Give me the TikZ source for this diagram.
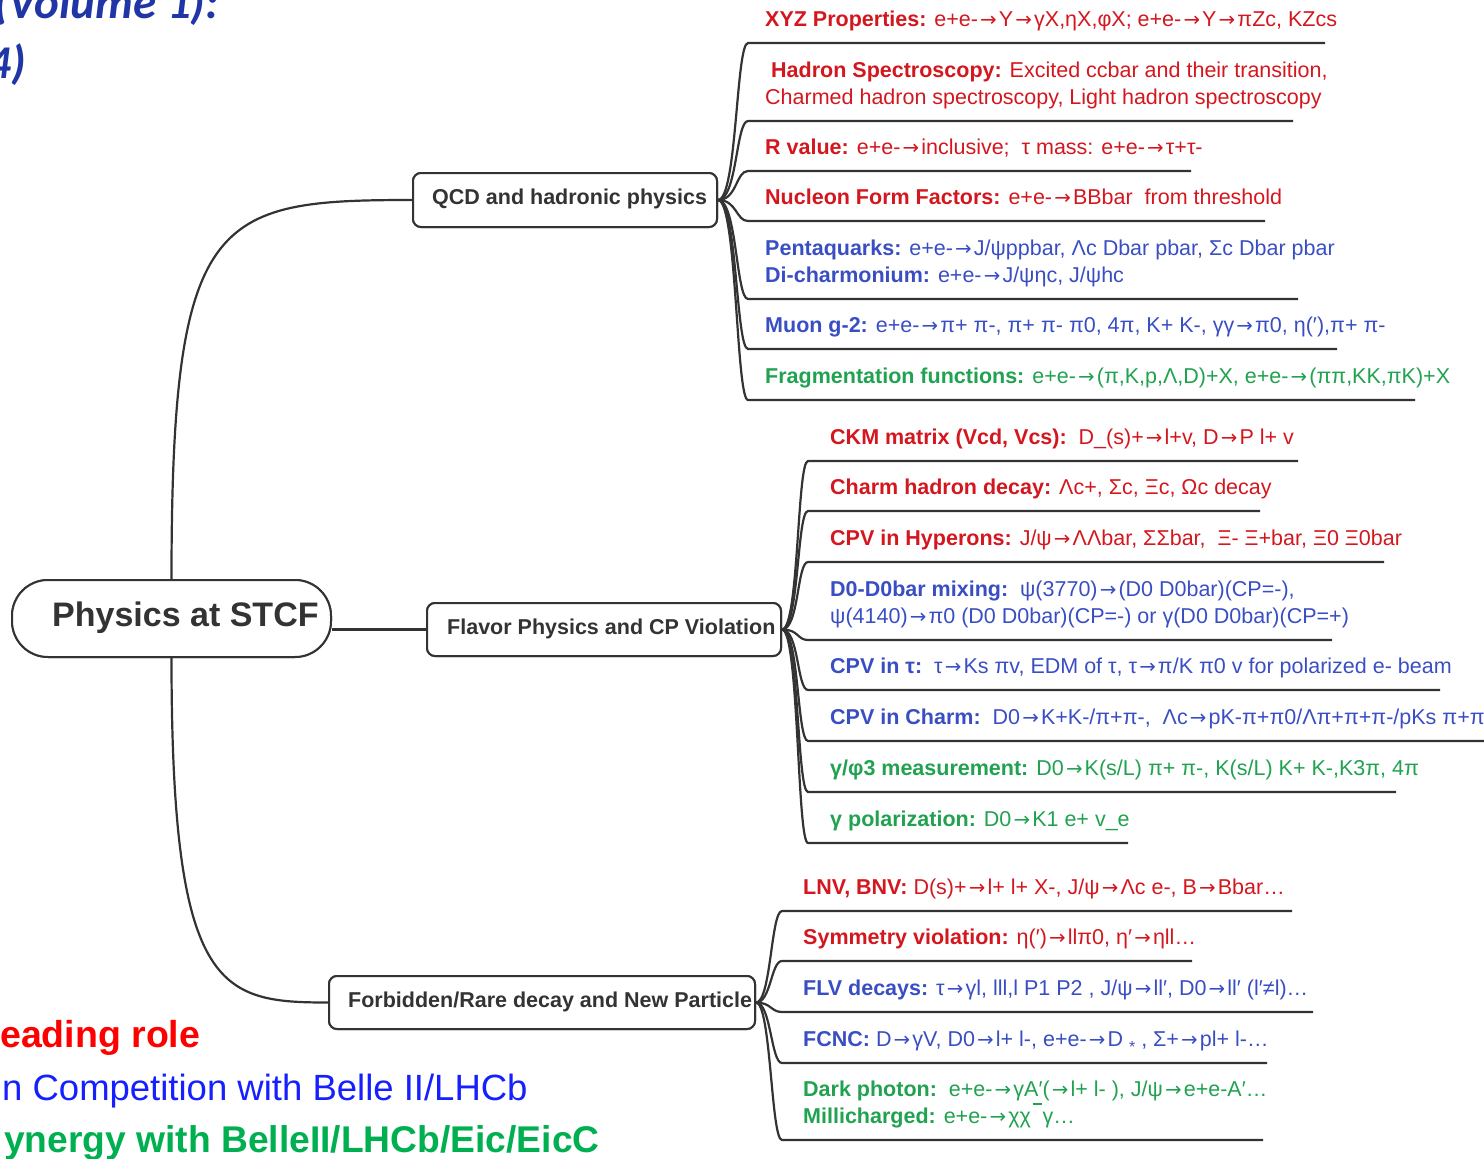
\documentclass[tikz,border=0pt]{standalone}
\usepackage{fontspec}
\setmainfont{Liberation Sans}
\newfontfamily\titlefont{Carlito}
\newfontfamily\arrfont[Scale=0.92]{DejaVu Sans}
\usetikzlibrary{calc}
\definecolor{linegray}{RGB}{51,51,51}
\definecolor{itemred}{RGB}{212,22,30}
\definecolor{itemblue}{RGB}{58,78,196}
\definecolor{itemgreen}{RGB}{32,162,80}
\definecolor{legred}{RGB}{255,0,0}
\definecolor{legblue}{RGB}{22,32,255}
\definecolor{leggreen}{RGB}{0,176,80}
\definecolor{titleblue}{RGB}{32,54,166}
\newcommand\ovbar{\hspace{0.08em}\raisebox{0.85em}{\rule{0.42em}{1.4pt}}\hspace{0.05em}}
\newcommand\smallstar{\raisebox{-0.3em}{\fontsize{16}{16}\selectfont *}}
\newcommand\myarrow{\kern0.1em{\arrfont\char"2192\relax}\kern0.1em}
\catcode`\→=\active
\def→{\myarrow}
\begin{document}
\begin{tikzpicture}[x=1pt,y=-1pt,
  line/.style={draw=linegray, line width=2.2pt},
  box/.style={draw=linegray, line width=2pt, rounded corners=8pt, fill=white, inner sep=0pt},
  boxtext/.style={anchor=base west, inner sep=0pt, text=linegray, font=\bfseries\fontsize{21.5}{26}\selectfont},
  item/.style={anchor=base west, inner sep=0pt, align=left, font=\fontsize{21.5}{26.5}\selectfont},
  itr/.style={item, text=itemred},
  itb/.style={item, text=itemblue},
  itg/.style={item, text=itemgreen},
  legend/.style={anchor=base west, inner sep=0pt, font=\fontsize{36.5}{40}\selectfont},
  titletext/.style={anchor=base west, inner sep=0pt, text=titleblue, font=\titlefont\bfseries\itshape\fontsize{47}{52}\selectfont}
]
\useasboundingbox (0,0) rectangle (1484,1159);
\clip (0,0) rectangle (1484,1159);

% slide title fragments
\node[titletext] (t1) at (-6,18) {(Volume 1):};
\node[titletext] (t2) at (-13,78) {4)};

% main nodes
\node[box, rounded corners=36pt, minimum width=319pt, minimum height=77pt] (root) at (171.5,618.5) {};
\node[box, minimum width=304pt, minimum height=54pt] (qcd) at (565,200) {};
\node[box, minimum width=354pt, minimum height=53pt] (flav) at (604,629.5) {};
\node[box, minimum width=426pt, minimum height=53pt] (forb) at (542,1002.5) {};

% root connectors
\draw[line] (root.north) .. controls +(0,-365) and +(-198,0) .. (qcd.west);
\draw[line] (root.south) .. controls +(0,333) and +(-109,0) .. (forb.west);
\draw[line] (root.east |- flav.west) -- (flav.west);

% branches QCD
\foreach \nm/\yy/\xe in {q1/43/1325, q2/121/1293, q3/171/1191, q4/221/1265, q5/299/1298, q6/349/1337, q7/400/1415}{
  \coordinate (\nm s) at (748,\yy);
  \coordinate (\nm e) at (\xe,\yy);
  \draw[line] (qcd.east) .. controls +(19,0) and +(-12,0) .. (\nm s) -- (\nm e);
}
% branches Flavor
\foreach \nm/\yy/\xe in {f1/461/1298, f2/511/1260, f3/562/1384, f4/640/1332, f5/690/1440, f6/741/1490, f7/792/1396, f8/843/1128}{
  \coordinate (\nm s) at (808,\yy);
  \coordinate (\nm e) at (\xe,\yy);
  \draw[line] (flav.east) .. controls +(17,0) and +(-11,0) .. (\nm s) -- (\nm e);
}
% branches Forbidden
\foreach \nm/\yy/\xe in {r1/911/1292, r2/961/1192, r3/1012/1313, r4/1063/1267, r5/1140/1263}{
  \coordinate (\nm s) at (782,\yy);
  \coordinate (\nm e) at (\xe,\yy);
  \draw[line] (forb.east) .. controls +(15,0) and +(-11,0) .. (\nm s) -- (\nm e);
}

% boxes redrawn over the connector ends
\node[box, rounded corners=36pt, minimum width=319pt, minimum height=77pt] at (root) {};
\node[box, minimum width=304pt, minimum height=54pt] at (qcd) {};
\node[box, minimum width=354pt, minimum height=53pt] at (flav) {};
\node[box, minimum width=426pt, minimum height=53pt] at (forb) {};
\node[boxtext, font=\bfseries\fontsize{34}{40}\selectfont] (roott) at (52,626) {Physics at STCF};
\node[boxtext] (qcdt) at (432,204) {QCD and hadronic physics};
\node[boxtext] (flavt) at (447,634) {Flavor Physics and CP Violation};
\node[boxtext] (forbt) at (348,1007) {Forbidden/Rare decay and New Particle};

% QCD items
\node[itr] (q1t) at (765,26) {\textbf{XYZ Properties:} e+e-→Y→γX,ηX,φX; e+e-→Y→πZc, KZcs};
\node[itr] (q2t) at (765,104) {\hspace*{6pt}\textbf{Hadron Spectroscopy:} Excited ccbar and their transition,\\Charmed hadron spectroscopy, Light hadron spectroscopy};
\node[itr] (q3t) at (765,154) {\textbf{R value:} e+e-→inclusive;\ \ τ mass: e+e-→τ+τ-};
\node[itr] (q4t) at (765,204) {\textbf{Nucleon Form Factors:} e+e-→BBbar\ \ from threshold};
\node[itb] (q5t) at (765,282) {\textbf{Pentaquarks:} e+e-→J/ψppbar, Λc Dbar pbar, Σc Dbar pbar\\\textbf{Di-charmonium:} e+e-→J/ψηc, J/ψhc};
\node[itb] (q6t) at (765,332) {\textbf{Muon g-2:} e+e-→π+ π-, π+ π- π0, 4π, K+ K-, γγ→π0, η(′),π+ π-};
\node[itg] (q7t) at (765,383) {\textbf{Fragmentation functions:} e+e-→(π,K,p,Λ,D)+X, e+e-→(ππ,KK,πK)+X};

% Flavor items
\node[itr] (f1t) at (830,444) {\textbf{CKM matrix (Vcd, Vcs):}\ \ D\_(s)+→l+v, D→P l+ v};
\node[itr] (f2t) at (830,494) {\textbf{Charm hadron decay:} Λc+, Σc, Ξc, Ωc decay};
\node[itr] (f3t) at (830,545) {\textbf{CPV in Hyperons:} J/ψ→ΛΛbar, ΣΣbar,\ \ Ξ- Ξ+bar, Ξ0 Ξ0bar};
\node[itb] (f4t) at (830,623) {\textbf{D0-D0bar mixing:}\ \ ψ(3770)→(D0 D0bar)(CP=-),\\ψ(4140)→π0 (D0 D0bar)(CP=-) or γ(D0 D0bar)(CP=+)};
\node[itb] (f5t) at (830,673) {\textbf{CPV in τ:}\ \ τ→Ks πv, EDM of τ, τ→π/K π0 v for polarized e- beam};
\node[itb] (f6t) at (830,724) {\textbf{CPV in Charm:}\ \ D0→K+K-/π+π-,\ \ Λc→pK-π+π0/Λπ+π+π-/pKs π+π-};
\node[itg] (f7t) at (830,775) {\textbf{γ/φ3 measurement:} D0→K(s/L) π+ π-, K(s/L) K+ K-,K3π, 4π};
\node[itg] (f8t) at (830,826) {\textbf{γ polarization:} D0→K1 e+ v\_e};

% Forbidden items
\node[itr] (r1t) at (803,894) {\textbf{LNV, BNV:} D(s)+→l+ l+ X-, J/ψ→Λc e-, B→Bbar…};
\node[itr] (r2t) at (803,944) {\textbf{Symmetry violation:} η(′)→llπ0, η′→ηll…};
\node[itb] (r3t) at (803,995) {\textbf{FLV decays:} τ→γl, lll,l P1 P2 , J/ψ→ll′, D0→ll′ (l′≠l)…};
\node[itb] (r4t) at (803,1046) {\textbf{FCNC:} D→γV, D0→l+ l-, e+e-→D \smallstar{} , Σ+→pl+ l-…};
\node[itg] (r5t) at (803,1123) {\textbf{Dark photon:}\ \ e+e-→γA′(→l+ l- ), J/ψ→e+e-A′…\\\textbf{Millicharged:} e+e-→χχ\ovbar γ…};

% legend
\node[legend, text=legred, font=\bfseries\fontsize{37.5}{40}\selectfont] (lg1) at (0,1047) {eading role};
\node[legend, text=legblue] (lg2) at (2,1100) {n Competition with Belle II/LHCb};
\node[legend, text=leggreen, font=\bfseries\fontsize{37.2}{40}\selectfont] (lg3) at (4,1152) {ynergy with BelleII/LHCb/Eic/EicC};
\end{tikzpicture}
\end{document}
